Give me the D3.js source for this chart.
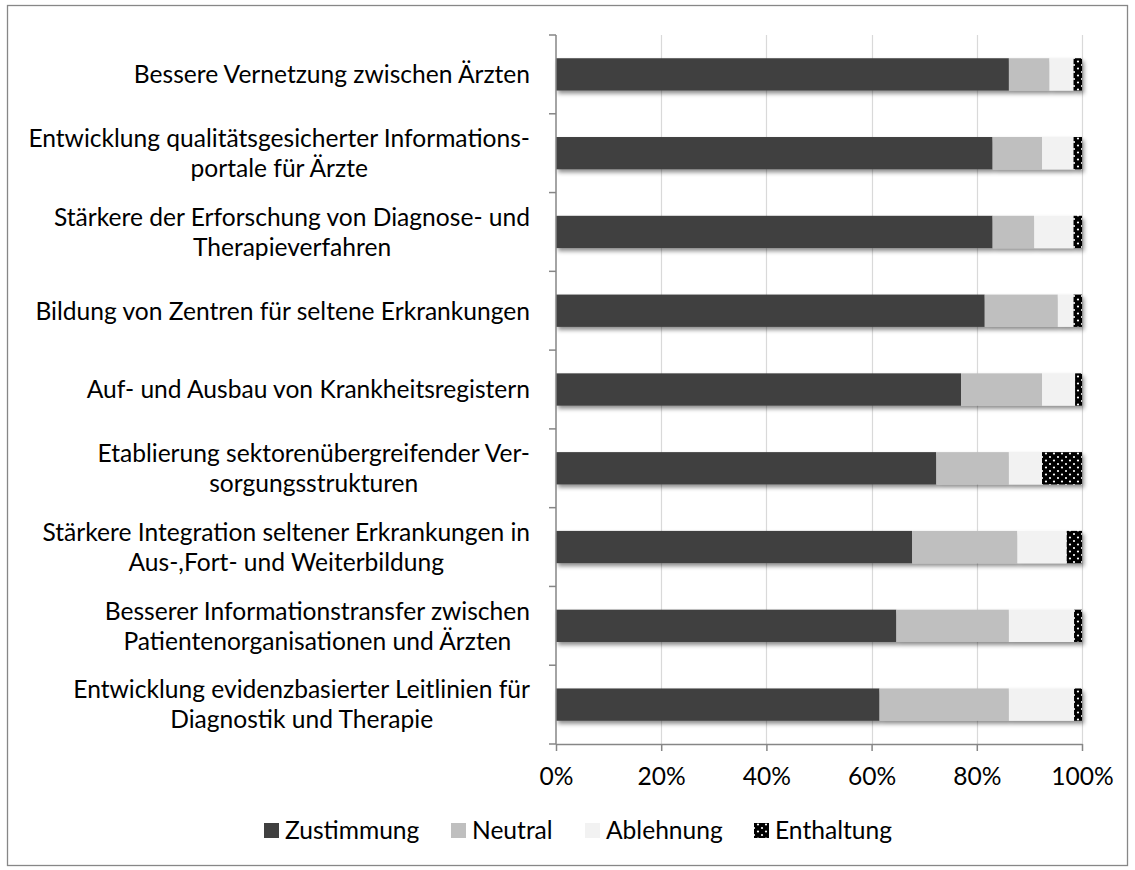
<!DOCTYPE html>
<html>
<head>
<meta charset="utf-8">
<script src="https://cdn.jsdelivr.net/npm/d3@7"></script>
<style>
  html, body { margin: 0; padding: 0; background: #fff; }
  svg { display: block; }
  text { font-family: Lato, "Open Sans", sans-serif; fill: #000; }
</style>
</head>
<body>
<svg id="chart" width="1135" height="870"></svg>
<script>
// ---- data ----
const categories = [
  "Bessere Vernetzung zwischen Ärzten",
  "Entwicklung qualitätsgesicherter Informations-\nportale für Ärzte",
  "Stärkere der Erforschung von Diagnose- und\nTherapieverfahren",
  "Bildung von Zentren für seltene Erkrankungen",
  "Auf- und Ausbau von Krankheitsregistern",
  "Etablierung sektorenübergreifender Ver-\nsorgungsstrukturen",
  "Stärkere Integration seltener Erkrankungen in\nAus-,Fort- und Weiterbildung",
  "Besserer Informationstransfer zwischen\nPatientenorganisationen und Ärzten",
  "Entwicklung evidenzbasierter Leitlinien für\nDiagnostik und Therapie"
];
const seriesNames = ["Zustimmung", "Neutral", "Ablehnung", "Enthaltung"];
const zustimmung = [86.1, 83.0, 83.0, 81.5, 77.0, 72.3, 67.7, 64.7, 61.5];
const neutral    = [7.7, 9.4, 7.9, 13.9, 15.4, 13.8, 20.0, 21.4, 24.6];
const ablehnung  = [4.6, 6.0, 7.5, 3.0, 6.3, 6.3, 9.4, 12.4, 12.4];
const enthaltung = [1.6, 1.6, 1.6, 1.6, 1.3, 7.6, 2.9, 1.5, 1.5];
const xTicks = [0, 0.2, 0.4, 0.6, 0.8, 1.0];

// ---- build table ----
const table = categories.map((c, i) => ({
  cat: c,
  Zustimmung: zustimmung[i],
  Neutral: neutral[i],
  Ablehnung: ablehnung[i],
  Enthaltung: enthaltung[i]
}));

const svg = d3.select("#chart");
const W = 1135, H = 870;
const plot = { left: 556, right: 1082, top: 35, bottom: 744 };

// defs: pattern + shadow
const defs = svg.append("defs");
const pat = defs.append("pattern")
  .attr("id", "dots").attr("patternUnits", "userSpaceOnUse")
  .attr("width", 8).attr("height", 7);
pat.append("rect").attr("width", 8).attr("height", 7).attr("fill", "#000");
pat.append("circle").attr("cx", 2).attr("cy", 2).attr("r", 1.1).attr("fill", "#fff");
pat.append("circle").attr("cx", 6).attr("cy", 5.5).attr("r", 1.1).attr("fill", "#fff");

const filt = defs.append("filter").attr("id", "shadow")
  .attr("x", "-5%").attr("y", "-30%").attr("width", "115%").attr("height", "180%");
filt.append("feDropShadow").attr("dx", 2).attr("dy", 3).attr("stdDeviation", 2.2)
  .attr("flood-color", "#000").attr("flood-opacity", 0.45);

const colors = {
  Zustimmung: "#404040",
  Neutral: "#bfbfbf",
  Ablehnung: "#f2f2f2",
  Enthaltung: "url(#dots)"
};

// background + border
svg.append("rect").attr("width", W).attr("height", H).attr("fill", "#fff");
svg.append("rect").attr("x", 7.5).attr("y", 5.5).attr("width", 1120).attr("height", 860)
  .attr("fill", "none").attr("stroke", "#878787").attr("stroke-width", 1.3);

// scales
const x = d3.scaleLinear().domain([0, 1]).range([plot.left, plot.right]);
const y = d3.scaleBand().domain(categories).range([plot.top, plot.bottom])
  .paddingInner(0.59).paddingOuter(0.295);

// font size fitting (to match the reference width of the longest label line)
const probe = svg.append("text").attr("font-size", 20).text("Entwicklung qualitätsgesicherter Informations-");
const probeLen = probe.node().getComputedTextLength();
probe.remove();
const fs = 20 * 502 / probeLen;

// gridlines
svg.append("g").selectAll("line").data(xTicks.slice(1)).join("line")
  .attr("x1", d => Math.round(x(d)) + 0.5).attr("x2", d => Math.round(x(d)) + 0.5)
  .attr("y1", plot.top).attr("y2", plot.bottom)
  .attr("stroke", "#d9d9d9").attr("stroke-width", 1.2);

// stacked bars
const stack = d3.stack().keys(seriesNames).offset(d3.stackOffsetExpand);
const stacked = stack(table);
const rows = svg.append("g").attr("filter", "url(#shadow)");
stacked.forEach(layer => {
  rows.append("g").selectAll("rect").data(layer).join("rect")
    .attr("x", d => x(d[0]))
    .attr("width", d => x(d[1]) - x(d[0]))
    .attr("y", d => y(d.data.cat))
    .attr("height", y.bandwidth())
    .attr("fill", colors[layer.key]);
});

// x axis
const xAxis = d3.axisBottom(x).tickValues(xTicks).tickFormat(d3.format(".0%"))
  .tickSizeOuter(0).tickSizeInner(7).tickPadding(10);
const gx = svg.append("g").attr("transform", `translate(0,${plot.bottom})`).call(xAxis);
gx.select(".domain").attr("stroke", "#868686").attr("stroke-width", 1.5);
gx.selectAll(".tick line").attr("stroke", "#868686").attr("stroke-width", 1.5);
gx.selectAll(".tick text").attr("font-size", fs).attr("font-family", "Lato, 'Open Sans', sans-serif")
  .attr("fill", "#000").attr("dy", null).attr("y", 41);

// y axis line + ticks between categories
const gy = svg.append("g");
gy.append("line").attr("x1", plot.left).attr("x2", plot.left)
  .attr("y1", plot.top).attr("y2", plot.bottom)
  .attr("stroke", "#868686").attr("stroke-width", 1.5);
const boundaries = d3.range(categories.length + 1).map(i => plot.top + i * y.step());
gy.selectAll("line.tk").data(boundaries).join("line").attr("class", "tk")
  .attr("x1", plot.left - 7).attr("x2", plot.left)
  .attr("y1", d => d).attr("y2", d => d)
  .attr("stroke", "#868686").attr("stroke-width", 1.5);

// category labels (multi-line centered, block right-aligned)
const labelRight = 530;
const lineH = 30;
categories.forEach(c => {
  const lines = c.split("\n");
  const cy = y(c) + y.bandwidth() / 2;
  const g = svg.append("g");
  const texts = lines.map((ln, i) =>
    g.append("text").attr("font-size", fs).text(ln)
      .attr("y", cy + (i - (lines.length - 1) / 2) * lineH + fs * 0.36));
  const maxW = d3.max(texts, t => t.node().getComputedTextLength());
  const center = labelRight - maxW / 2;
  texts.forEach(t => t.attr("x", center).attr("text-anchor", "middle"));
});

// legend
const legendX = [264, 451, 585, 754];
const legend = svg.append("g");
seriesNames.forEach((s, i) => {
  legend.append("rect").attr("x", legendX[i]).attr("y", 823).attr("width", 15).attr("height", 15)
    .attr("fill", colors[s]);
  legend.append("text").attr("x", legendX[i] + 21).attr("y", 830 + fs * 0.36)
    .attr("font-size", fs).text(s);
});
</script>
</body>
</html>
